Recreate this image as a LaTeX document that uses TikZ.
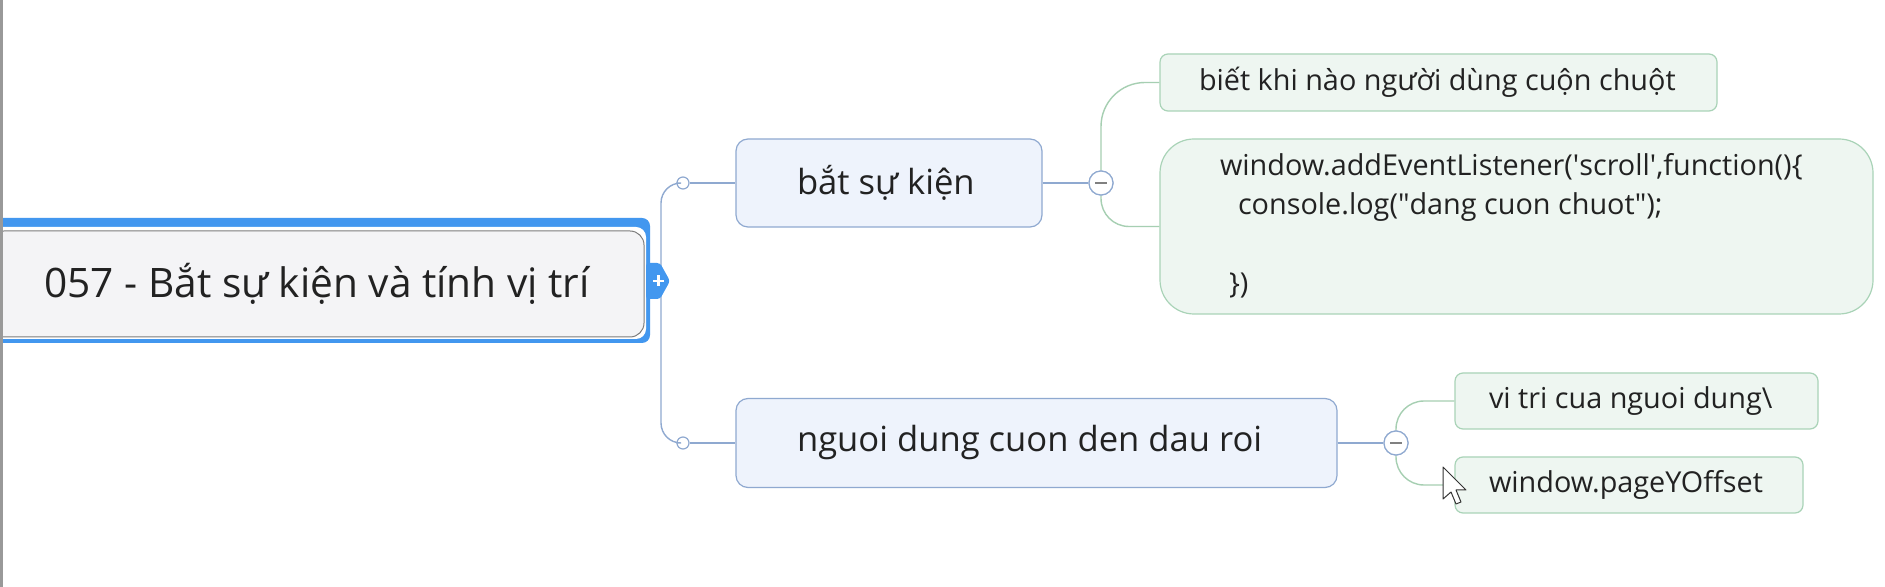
\documentclass[tikz,border=0pt]{standalone}
\usepackage{fontspec}
\setmainfont{Open Sans}
\definecolor{rootblue}{HTML}{4297EF}
\definecolor{rootfill}{HTML}{F4F4F6}
\definecolor{rootbord}{HTML}{7C7C7C}
\definecolor{bfill}{HTML}{EEF3FC}
\definecolor{bbord}{HTML}{8FA9D0}
\definecolor{gfill}{HTML}{EEF6F1}
\definecolor{gbord}{HTML}{A9D3B7}
\definecolor{gline}{HTML}{A6CFB2}
\definecolor{txt}{HTML}{222222}
\begin{document}
\begin{tikzpicture}[x=0.5pt,y=-0.5pt,
  rootbox/.style={draw=rootbord, fill=rootfill, rounded corners=7pt, line width=0.5pt,
    minimum width=327pt, minimum height=53pt, inner sep=0pt, text=txt,
    font=\fontsize{20.3pt}{25pt}\selectfont},
  bluebox/.style={draw=bbord, fill=bfill, rounded corners=6pt, line width=0.6pt,
    inner ysep=0pt, text=txt, font=\fontsize{17.3pt}{21pt}\selectfont},
  greenbox/.style={draw=gbord, fill=gfill, rounded corners=4pt, line width=0.6pt,
    inner ysep=0pt, text=txt, font=\fontsize{14.4pt}{19.6pt}\selectfont},
  dotc/.style={circle, draw=bbord, fill=white, line width=0.6pt, minimum size=6pt, inner sep=0pt},
  togc/.style={circle, draw=bbord, fill=white, line width=0.6pt, minimum size=12pt, inner sep=0pt},
  bconn/.style={draw=bbord, line width=0.7pt},
  gconn/.style={draw=gline, line width=0.7pt}
]
\useasboundingbox (0,0) rectangle (1885,587);
\clip (0,0) rectangle (1885,587);
\fill[white] (0,0) rectangle (1885,587);

% root with selection frame
\fill[rootblue, rounded corners=4pt] (-20,218) rectangle (650,343);
\fill[white, rounded corners=5pt] (-20,227) rectangle (646,339);
\node[rootbox] (root) at (317,284) {057 - Bắt sự kiện và tính vị trí};

% small connector dots
\node[dotc] (d1) at (683,183) {};
\node[dotc] (d2) at (683,443) {};
\coordinate (tr) at (661,300);
\draw[bconn, rounded corners=10pt] (d1.west) -| (tr) |- (d2.west);

% tab with plus
\fill[rootblue, rounded corners=1.5pt] (646,263) -- (660,263) -- (670,281) -- (660,299) -- (646,299) -- cycle;
\draw[white, line width=1.4pt] (653,281) -- (664,281) (658.5,275.5) -- (658.5,286.5);

% main branches
\node[bluebox, inner xsep=30.5pt, minimum height=44pt] (b1) at (889,183)
  {\makebox[92pt][l]{bắt sự kiện}};
\node[bluebox, inner xsep=30.5pt, minimum height=44.5pt] (b2) at (1036.5,443)
  {\makebox[239.5pt][l]{nguoi dung cuon den dau roi}};
\draw[bconn] (d1.east) -- (b1.west);
\draw[bconn] (d2.east) -- (b2.west);

% toggles
\node[togc] (e1) at (1101,183) {};
\node[togc] (e2) at (1396,443) {};
\draw[bconn] (b1.east) -- (e1.west);
\draw[bconn] (b2.east) -- (e2.west);

% leaves
\node[greenbox, inner xsep=19.5pt, minimum height=28.5pt] (g1) at (1438.5,82.5)
  {\makebox[239.5pt][l]{biết khi nào người dùng cuộn chuột}};
\node[greenbox, rounded corners=17pt, inner xsep=30pt, minimum height=87.5pt] (g2) at (1516.5,226.5)
  {\makebox[296.5pt][l]{\raisebox{-3.5pt}{\begin{tabular}[c]{@{}l@{}}
    window.addEventListener(\textquotesingle scroll\textquotesingle,function()\{\\
    \hspace*{9pt}console.log(\textquotedbl dang cuon chuot\textquotedbl);\\
    \mbox{}\\
    \hspace*{4.5pt}\})
  \end{tabular}}}};
\node[greenbox, inner xsep=17pt, minimum height=28pt] (g3) at (1636.5,401)
  {\makebox[147.5pt][l]{vi tri cua nguoi dung\textbackslash}};
\node[greenbox, inner xsep=17pt, minimum height=28pt] (g4) at (1629,485)
  {\makebox[140pt][l]{window.pageYOffset}};

% green connectors
\draw[gconn, rounded corners=22pt] (e1.north) |- (g1.west);
\draw[gconn, rounded corners=14pt] (e1.south) |- (g2.west);
\draw[gconn, rounded corners=14pt] (e2.north) |- (g3.west);
\draw[gconn, rounded corners=14pt] (e2.south) |- (g4.west);

% redraw toggles on top with minus
\node[togc] at (e1) {};
\node[togc] at (e2) {};
\draw[gray, line width=0.6pt] ([xshift=-3pt]e1.center) -- ([xshift=3pt]e1.center);
\draw[gray, line width=0.6pt] ([xshift=-3pt]e2.center) -- ([xshift=3pt]e2.center);

% mouse cursor
\draw[fill=white, draw=black!80, line width=0.5pt, line join=round]
  (1443,467) -- ++(0,32) -- ++(8,-7) -- ++(5,12) -- ++(5,-2) -- ++(-5,-12) -- ++(10,0) -- cycle;

% window border on the left
\fill[black!40] (0,0) rectangle (2.5,587);
\end{tikzpicture}
\end{document}
